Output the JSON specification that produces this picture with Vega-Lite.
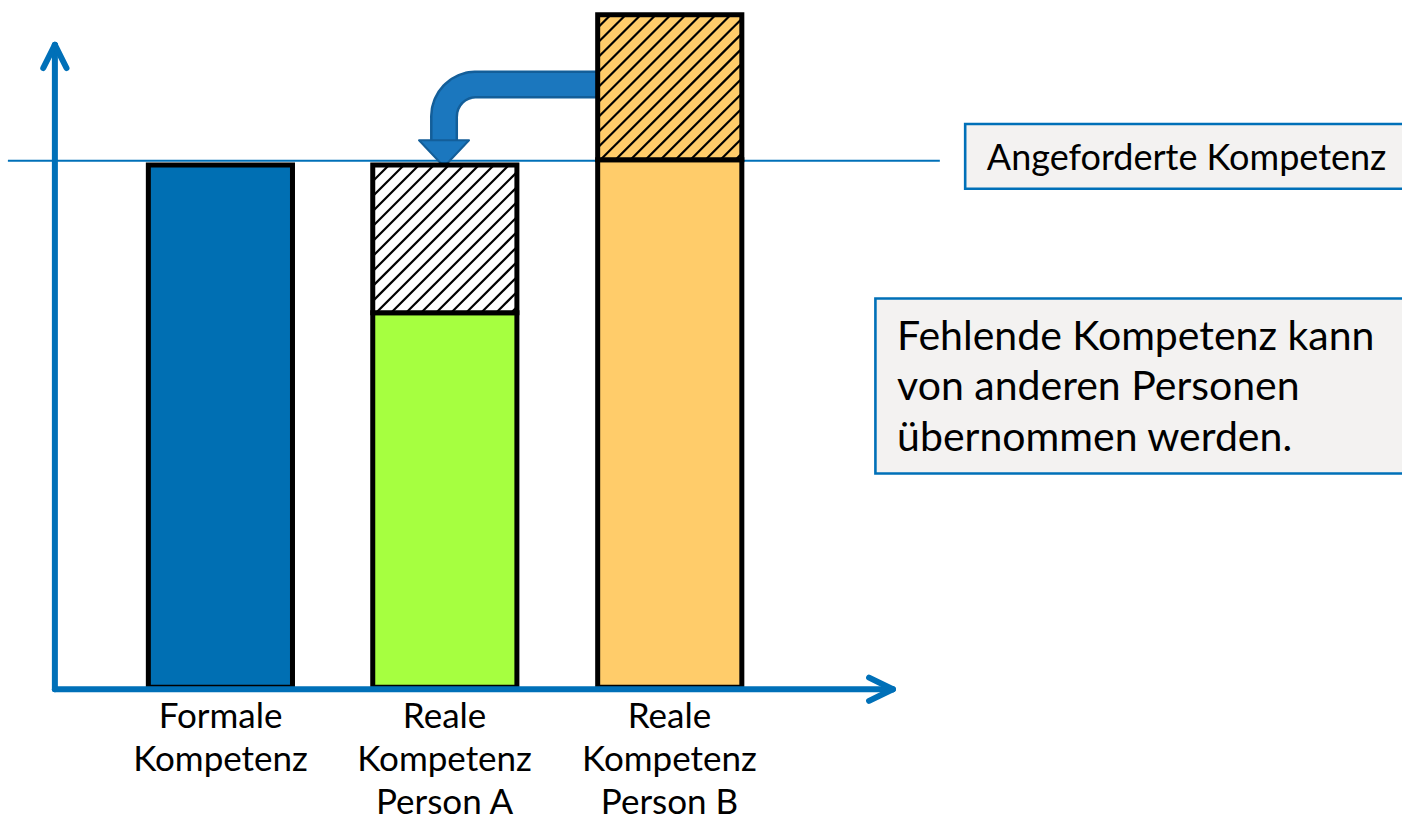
{
  "$schema": "https://vega.github.io/schema/vega-lite/v6.json",
  "width": 1402,
  "height": 822,
  "padding": 0,
  "autosize": {"type": "fit", "contains": "padding"},
  "background": "white",
  "config": {"view": {"stroke": null}},
  "datasets": {
    "bars": [
      {"bar": "Formale Kompetenz", "part": "formal", "x": 17.3, "x2": 44.6, "y": 0, "y2": 99},
      {"bar": "Reale Kompetenz Person A", "part": "vorhanden A", "x": 59.8, "x2": 87.1, "y": 0, "y2": 71},
      {"bar": "Reale Kompetenz Person A", "part": "fehlend", "x": 59.8, "x2": 87.1, "y": 71, "y2": 99},
      {"bar": "Reale Kompetenz Person B", "part": "vorhanden B", "x": 102.4, "x2": 129.7, "y": 0, "y2": 100},
      {"bar": "Reale Kompetenz Person B", "part": "überschuss", "x": 102.4, "x2": 129.7, "y": 100, "y2": 127.5}
    ],
    "hatch": [
      {"x": 86, "y": 71, "x2": 87.1, "y2": 72.1},
      {"x": 83.16, "y": 71, "x2": 87.1, "y2": 74.94},
      {"x": 80.32, "y": 71, "x2": 87.1, "y2": 77.78},
      {"x": 77.48, "y": 71, "x2": 87.1, "y2": 80.62},
      {"x": 74.64, "y": 71, "x2": 87.1, "y2": 83.46},
      {"x": 71.8, "y": 71, "x2": 87.1, "y2": 86.3},
      {"x": 68.96, "y": 71, "x2": 87.1, "y2": 89.14},
      {"x": 66.12, "y": 71, "x2": 87.1, "y2": 91.98},
      {"x": 63.28, "y": 71, "x2": 87.1, "y2": 94.82},
      {"x": 60.44, "y": 71, "x2": 87.1, "y2": 97.66},
      {"x": 59.8, "y": 73.2, "x2": 85.6, "y2": 99},
      {"x": 59.8, "y": 76.04, "x2": 82.76, "y2": 99},
      {"x": 59.8, "y": 78.88, "x2": 79.92, "y2": 99},
      {"x": 59.8, "y": 81.72, "x2": 77.08, "y2": 99},
      {"x": 59.8, "y": 84.56, "x2": 74.24, "y2": 99},
      {"x": 59.8, "y": 87.4, "x2": 71.4, "y2": 99},
      {"x": 59.8, "y": 90.24, "x2": 68.56, "y2": 99},
      {"x": 59.8, "y": 93.08, "x2": 65.72, "y2": 99},
      {"x": 59.8, "y": 95.92, "x2": 62.88, "y2": 99},
      {"x": 128.5, "y": 100, "x2": 129.7, "y2": 101.2},
      {"x": 125.66, "y": 100, "x2": 129.7, "y2": 104.04},
      {"x": 122.82, "y": 100, "x2": 129.7, "y2": 106.88},
      {"x": 119.98, "y": 100, "x2": 129.7, "y2": 109.72},
      {"x": 117.14, "y": 100, "x2": 129.7, "y2": 112.56},
      {"x": 114.3, "y": 100, "x2": 129.7, "y2": 115.4},
      {"x": 111.46, "y": 100, "x2": 129.7, "y2": 118.24},
      {"x": 108.62, "y": 100, "x2": 129.7, "y2": 121.08},
      {"x": 105.78, "y": 100, "x2": 129.7, "y2": 123.92},
      {"x": 102.94, "y": 100, "x2": 129.7, "y2": 126.76},
      {"x": 102.4, "y": 102.3, "x2": 127.6, "y2": 127.5},
      {"x": 102.4, "y": 105.14, "x2": 124.76, "y2": 127.5},
      {"x": 102.4, "y": 107.98, "x2": 121.92, "y2": 127.5},
      {"x": 102.4, "y": 110.82, "x2": 119.08, "y2": 127.5},
      {"x": 102.4, "y": 113.66, "x2": 116.24, "y2": 127.5},
      {"x": 102.4, "y": 116.5, "x2": 113.4, "y2": 127.5},
      {"x": 102.4, "y": 119.34, "x2": 110.56, "y2": 127.5},
      {"x": 102.4, "y": 122.18, "x2": 107.72, "y2": 127.5},
      {"x": 102.4, "y": 125.02, "x2": 104.88, "y2": 127.5}
    ],
    "axes": [
      {"seg": "y-Achse", "x": -0.4, "y": -0.4, "x2": -0.4, "y2": 121.8},
      {"seg": "y-Spitze links", "x": -0.4, "y": 121.8, "x2": -2.6, "y2": 117.4},
      {"seg": "y-Spitze rechts", "x": -0.4, "y": 121.8, "x2": 1.8, "y2": 117.4},
      {"seg": "x-Achse", "x": -0.4, "y": -0.4, "x2": 158.3, "y2": -0.4},
      {"seg": "x-Spitze oben", "x": 158.3, "y": -0.4, "x2": 153.8, "y2": 1.8},
      {"seg": "x-Spitze unten", "x": 158.3, "y": -0.4, "x2": 153.8, "y2": -2.6}
    ],
    "required": [
      {"label": "Angeforderte Kompetenz", "x": -9.3, "x2": 167.2, "y": 99.8, "y2": 99.8}
    ],
    "arrow": [
      {"order": 1, "x": 102.4, "y": 114.3},
      {"order": 2, "x": 79.36, "y": 114.3},
      {"order": 3, "x": 78.17, "y": 114.18},
      {"order": 4, "x": 77.04, "y": 113.84},
      {"order": 5, "x": 75.99, "y": 113.28},
      {"order": 6, "x": 75.07, "y": 112.52},
      {"order": 7, "x": 74.32, "y": 111.61},
      {"order": 8, "x": 73.76, "y": 110.56},
      {"order": 9, "x": 73.41, "y": 109.42},
      {"order": 10, "x": 73.3, "y": 108.24},
      {"order": 11, "x": 73.3, "y": 103.0}
    ],
    "arrowhead": [
      {"x": 73.3, "y": 101.2}
    ],
    "boxes": [
      {"box": "Angeforderte Kompetenz", "x": 172.0, "x2": 262, "y": 94.5, "y2": 106.8},
      {"box": "Hinweis", "x": 155.0, "x2": 262, "y": 40.5, "y2": 73.7}
    ],
    "labels": [
      {"text": "Formale\nKompetenz", "x": 30.97, "y": -7.77},
      {"text": "Reale\nKompetenz\nPerson A", "x": 73.4, "y": -7.77},
      {"text": "Reale\nKompetenz\nPerson B", "x": 116.0, "y": -7.77}
    ],
    "boxtext1": [
      {"text": "Angeforderte Kompetenz", "x": 176.1, "y": 98.1}
    ],
    "boxtext2": [
      {"text": "Fehlende Kompetenz kann\nvon anderen Personen\nübernommen werden.", "x": 159.1, "y": 64.0}
    ]
  },
  "encoding": {
    "x": {"field": "x", "type": "quantitative", "axis": null, "scale": {"domain": [-10.795, 254.73], "nice": false, "zero": false}},
    "y": {"field": "y", "type": "quantitative", "axis": null, "scale": {"domain": [-25.38, 130.3], "nice": false, "zero": false}}
  },
  "layer": [
    {
      "data": {"name": "required"},
      "mark": {"type": "rule", "color": "#0070b8", "strokeWidth": 2},
      "encoding": {"x2": {"field": "x2"}, "y2": {"field": "y2"}}
    },
    {
      "data": {"name": "arrow"},
      "mark": {"type": "line", "color": "#135e99", "strokeWidth": 28, "strokeJoin": "round", "strokeCap": "butt"},
      "encoding": {"order": {"field": "order", "type": "quantitative"}}
    },
    {
      "data": {"name": "arrow"},
      "mark": {"type": "line", "color": "#1b77be", "strokeWidth": 23, "strokeJoin": "round", "strokeCap": "butt"},
      "encoding": {"order": {"field": "order", "type": "quantitative"}}
    },
    {
      "data": {"name": "arrowhead"},
      "mark": {"type": "point", "shape": "M-1,-0.53L1,-0.53L0,0.53Z", "size": 2500, "filled": true, "fill": "#1b77be", "stroke": "#135e99", "strokeWidth": 2, "opacity": 1, "fillOpacity": 1, "strokeJoin": "round"},
      "encoding": {}
    },
    {
      "data": {"name": "bars"},
      "mark": {"type": "rect", "stroke": "black", "strokeWidth": 5, "strokeJoin": "miter"},
      "encoding": {
        "x2": {"field": "x2"},
        "y2": {"field": "y2"},
        "color": {
          "field": "part", "type": "nominal", "legend": null,
          "scale": {
            "domain": ["formal", "vorhanden A", "fehlend", "vorhanden B", "überschuss"],
            "range": ["#006fb3", "#a6ff40", "#ffffff", "#ffcc6a", "#ffcc6a"]
          }
        }
      }
    },
    {
      "data": {"name": "hatch"},
      "mark": {"type": "rule", "color": "black", "strokeWidth": 2.2},
      "encoding": {"x2": {"field": "x2"}, "y2": {"field": "y2"}}
    },
    {
      "data": {"name": "axes"},
      "mark": {"type": "rule", "color": "#0070b8", "strokeWidth": 6, "strokeCap": "round"},
      "encoding": {"x2": {"field": "x2"}, "y2": {"field": "y2"}}
    },
    {
      "data": {"name": "boxes"},
      "mark": {"type": "rect", "fill": "#f3f2f1", "stroke": "#0070b8", "strokeWidth": 2.6, "clip": true},
      "encoding": {"x2": {"field": "x2"}, "y2": {"field": "y2"}}
    },
    {
      "data": {"name": "labels"},
      "mark": {"type": "text", "font": "Lato", "fontSize": 35, "align": "center", "baseline": "alphabetic", "lineBreak": "\n", "lineHeight": 43, "color": "black"},
      "encoding": {"text": {"field": "text"}}
    },
    {
      "data": {"name": "boxtext1"},
      "mark": {"type": "text", "font": "Lato", "fontSize": 36, "align": "left", "baseline": "alphabetic", "color": "black"},
      "encoding": {"text": {"field": "text"}}
    },
    {
      "data": {"name": "boxtext2"},
      "mark": {"type": "text", "font": "Lato", "fontSize": 41, "align": "left", "baseline": "alphabetic", "lineBreak": "\n", "lineHeight": 50.5, "color": "black"},
      "encoding": {"text": {"field": "text"}}
    }
  ]
}
